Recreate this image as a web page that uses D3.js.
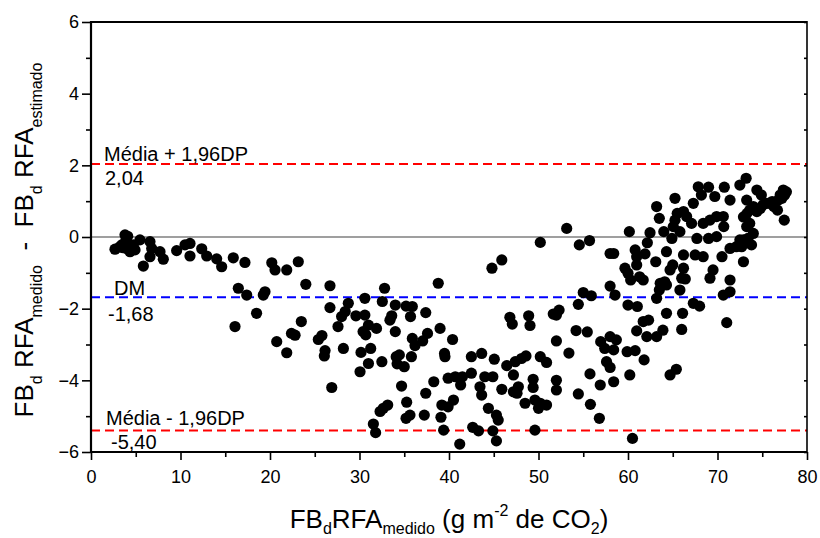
<!DOCTYPE html>
<html>
<head>
<meta charset="utf-8">
<script src="https://cdn.jsdelivr.net/npm/d3@7"></script>
<style>
  body { margin: 0; background: #fff; }
  svg text { font-family: "Liberation Sans", Arial, sans-serif; fill: #000; }
</style>
</head>
<body>
<svg id="chart" width="820" height="538"></svg>
<script>
// Bland-Altman data: [FBd RFA medido, medido - estimado]
const lowRange = [
  [2.68,-0.34],[3.2,-0.28],[3.43,-0.22],[3.6,-0.3],[3.8,0.06],[3.91,-0.08],[3.98,-0.32],[4.1,0.02],
  [4.36,-0.41],[4.5,-0.3],[4.73,-0.22],[4.92,-0.36],[5.47,-0.08],[5.85,-0.81],[6.59,-0.13],[6.59,-0.55],
  [6.78,-0.32],[7.71,-0.41],[8.08,-0.62],[9.57,-0.38],[10.5,-0.22],[11.06,-0.18],[11.06,-0.53],[12.37,-0.33],
  [12.93,-0.53],[14.04,-0.61],[14.6,-0.83],[15.9,-0.58],[16.09,-2.5],[16.46,-1.43],[17.2,-0.71],[17.4,-1.62],
  [18.5,-2.13],[19.44,-1.53],[19.25,-1.62],[20.2,-0.72],[20.56,-0.92],[20.75,-2.92],[21.87,-0.92],[21.87,-3.23],
  [22.4,-2.69],[22.8,-2.74],[23.16,-0.69],[23.5,-2.36]
];
const midRange = [
  [24.0,-1.32],[26.7,-1.36],[25.4,-2.86],[25.8,-2.75],[26.15,-3.17],[26.07,-3.32],[26.7,-1.97],[27.6,-2.5],
  [28.0,-2.22],[28.4,-2.08],[28.75,-1.85],[28.2,-3.11],[29.6,-2.2],[30.06,-3.76],[30.17,-3.22],[30.4,-2.64],
  [30.6,-2.18],[30.6,-1.71],[30.7,-2.73],[31.0,-2.46],[31.0,-3.53],[31.25,-3.11],[31.9,-2.55],[32.5,-3.48],
  [32.55,-1.8],[32.8,-1.43],[33.4,-2.32],[33.6,-2.2],[34.0,-1.9],[34.0,-2.64],[34.1,-3.34],[34.2,-3.54],
  [34.45,-3.29],[35.0,-3.62],[35.2,-1.93],[35.8,-3.34],[35.7,-2.22],[35.9,-1.94],[35.9,-2.83],[36.2,-3.03],
  [37.06,-2.9],[37.4,-2.11],[37.6,-2.69],[38.3,-4.04],[38.8,-1.29],[39.0,-2.55],[39.5,-3.25],[39.55,-3.34],
  [40.4,-2.86],[39.9,-3.94],[40.7,-3.9],[41.5,-3.9],[42.5,-3.34],[42.5,-3.8],[43.65,-3.25],[44.0,-3.9],
  [44.9,-3.9],[45.06,-3.41],[44.8,-0.87],[45.9,-0.64],[46.45,-3.59],[46.8,-2.24],[47.07,-2.43],[47.2,-3.85],
  [47.4,-3.48],[48.1,-3.39],[48.6,-3.32],[48.9,-2.2],[49.05,-2.47],[50.2,-0.15],[50.2,-3.34],[50.9,-3.5],
  [51.65,-2.15],[52.0,-2.18],[52.3,-2.04],[52.0,-2.9],[53.15,0.24],[53.4,-3.24],[54.2,-2.61],[54.45,-1.88],
  [54.56,-0.22],[49.4,-3.97],[52.0,-4.0]
];
const deepRange = [
  [26.9,-4.2],[31.55,-5.22],[31.8,-5.46],[32.3,-4.87],[32.66,-4.78],[33.15,-4.69],[34.7,-4.16],[35.27,-4.61],
  [35.2,-5.06],[35.64,-4.97],[37.24,-4.97],[37.4,-4.36],[39.2,-4.69],[39.1,-5.03],[39.4,-5.39],[39.9,-4.74],
  [40.5,-4.55],[41.2,-5.78],[41.3,-4.13],[42.65,-5.31],[43.3,-5.41],[43.46,-4.18],[43.65,-4.41],[44.4,-4.78],
  [44.9,-5.41],[45.3,-4.97],[45.5,-5.11],[45.3,-5.69],[45.9,-4.25],[47.2,-4.32],[47.75,-4.18],[47.6,-4.36],
  [48.5,-4.64],[49.4,-4.2],[49.6,-4.55],[49.6,-5.39],[50.0,-4.78],[50.2,-4.64],[50.9,-4.69],[52.0,-4.27],
  [54.45,-4.38],[55.75,-3.82],[56.9,-4.13],[57.6,-3.48],[58.0,-3.64],[58.4,-4.04],[60.2,-3.85],[61.8,-3.43],
  [64.7,-3.85],[65.4,-3.69],[55.8,-4.67],[56.8,-5.06],[60.5,-5.62]
];
const highRange = [
  [55.7,-0.1],[58.0,-0.46],[58.4,-0.46],[60.15,0.15],[63.2,0.85],[63.5,0.52],[62.46,0.12],[62.16,-0.16],
  [65.25,1.08],[65.5,0.66],[65.25,0.47],[66.2,0.71],[66.55,0.57],[64.0,0.15],[64.9,-0.04],[65.06,0.29],
  [65.8,0.15],[67.1,0.38],[67.3,0.94],[67.85,1.4],[69.0,1.39],[69.7,1.13],[70.76,1.39],[71.4,1.03],
  [72.5,1.45],[73.26,1.03],[74.4,1.31],[74.9,1.17],[75.87,0.94],[77.0,1.17],[77.7,1.26],[77.46,0.47],
  [68.2,1.17],[67.7,-0.04],[68.4,0.38],[69.16,0.47],[69.9,0.57],[70.65,0.57],[70.7,0.29],[69.0,-0.04],
  [69.9,0.01],[71.4,-0.32],[72.1,-0.27],[72.9,-0.08],[73.8,-0.22],[72.9,-0.69],[67.5,-0.5],[68.4,-0.55],
  [70.5,-0.55],[69.5,-0.92],[69.16,-1.15],[71.4,-1.2],[71.4,-1.53],[70.65,-1.62],[66.2,-0.5],[64.3,-0.41],
  [60.8,-0.36],[60.97,-0.55],[61.9,-0.47],[63.1,-0.69],[60.97,-0.78],[59.66,-0.87],[60.0,-1.01],[60.3,-1.2],
  [61.3,-1.11],[61.7,-1.2],[63.6,-1.29],[64.1,-1.25],[64.3,-1.34],[63.5,-1.48],[63.2,-1.71],[65.0,-0.78],
  [64.7,-0.92],[66.2,-0.87],[66.0,-1.15],[66.4,-1.17],[65.8,-1.48],[64.3,-2.13],[66.1,-2.13],[66.0,-2.58],
  [67.3,-1.85],[68.0,-1.93],[63.9,-2.6],[63.2,-2.78],[62.1,-2.78],[60.97,-2.62],[61.7,-2.36],[62.3,-2.32],
  [61.04,-1.94],[60.0,-1.9],[58.0,-1.37],[58.55,-1.62],[55.0,-1.55],[55.9,-1.64],[55.45,-2.65],[56.95,-2.92],
  [58.0,-2.78],[58.7,-2.87],[57.4,-3.11],[58.4,-3.15],[59.9,-3.2],[60.8,-3.17],[71.03,-2.39]
];
const topCluster = [
  [73.2,1.64],[77.35,1.31],[72.9,0.56],[73.3,0.66],[73.6,0.75],[74.0,0.85],[74.4,0.71],[74.8,0.8],
  [75.1,0.9],[75.5,0.94],[76.1,0.99],[76.3,0.85],[76.7,0.75],[76.8,1.03],[77.2,1.08],[77.5,1.17],
  [73.26,0.29],[73.6,0.38],[74.0,0.1],[73.4,-0.04],[72.5,-0.08],[72.7,-0.27]
];

const xMajorTicks = [0, 10, 20, 30, 40, 50, 60, 70, 80];
const xMinorTicks = [5, 15, 25, 35, 45, 55, 65, 75];
const yMajorTicks = [-6, -4, -2, 0, 2, 4, 6];
const yMinorTicks = [-5, -3, -1, 1, 3, 5];

// Limits of agreement and mean difference
const upperLimit = 2.04;
const meanDiff = -1.68;
const lowerLimit = -5.40;

const svg = d3.select("#chart");
const plotLeft = 91, plotRight = 807, plotTop = 22, plotBottom = 452;

const x = d3.scaleLinear().domain([0, 80]).range([plotLeft, plotRight]);
const y = d3.scaleLinear().domain([-6, 6]).range([plotBottom, plotTop]);

const fmt = d3.format("d");

// zero reference line
svg.append("line")
  .attr("x1", plotLeft).attr("x2", plotRight)
  .attr("y1", y(0)).attr("y2", y(0))
  .attr("stroke", "#7f7f7f").attr("stroke-width", 1.5);

// dashed reference lines
const refLines = [
  { v: upperLimit, color: "#ff0000" },
  { v: meanDiff, color: "#0000ff" },
  { v: lowerLimit, color: "#ff0000" }
];
svg.selectAll(".ref").data(refLines).enter().append("line")
  .attr("class", "ref")
  .attr("x1", plotLeft).attr("x2", plotRight)
  .attr("y1", d => y(d.v)).attr("y2", d => y(d.v))
  .attr("stroke", d => d.color).attr("stroke-width", 2)
  .attr("stroke-dasharray", "9,5");

// points
const allPoints = lowRange.concat(midRange, deepRange, highRange, topCluster);
svg.append("g").selectAll("circle").data(allPoints).enter().append("circle")
  .attr("cx", d => x(d[0])).attr("cy", d => y(d[1]))
  .attr("r", 5.6).attr("fill", "#000");

// axes
function styleAxis(g) {
  g.select(".domain").remove();
  g.selectAll(".tick line").attr("stroke", "#000").attr("stroke-width", 1.6);
  g.selectAll(".tick text").style("font-size", "18px").attr("fill", "#000");
}
svg.append("g").attr("transform", `translate(0,${plotBottom})`)
  .call(d3.axisBottom(x).tickValues(xMajorTicks).tickFormat(fmt).tickSize(8).tickPadding(10))
  .call(styleAxis);
svg.append("g").attr("transform", `translate(0,${plotBottom})`)
  .call(d3.axisBottom(x).tickValues(xMinorTicks).tickFormat("").tickSize(5))
  .call(styleAxis);
svg.append("g").attr("transform", `translate(${plotLeft},0)`)
  .call(d3.axisLeft(y).tickValues(yMajorTicks).tickFormat(fmt).tickSize(9).tickPadding(3))
  .call(styleAxis);
svg.append("g").attr("transform", `translate(${plotLeft},0)`)
  .call(d3.axisLeft(y).tickValues(yMinorTicks).tickFormat("").tickSize(5))
  .call(styleAxis);
svg.append("g").attr("transform", `translate(${plotRight},0)`)
  .call(d3.axisLeft(y).tickValues(d3.range(-6, 7, 1)).tickFormat("").tickSize(3))
  .call(styleAxis);

// frame
const frame = svg.append("g").attr("stroke", "#000").attr("fill", "none");
frame.append("line").attr("x1", plotLeft).attr("x2", plotRight).attr("y1", plotTop).attr("y2", plotTop).attr("stroke-width", 2.2);
frame.append("line").attr("x1", plotLeft).attr("x2", plotRight).attr("y1", plotBottom).attr("y2", plotBottom).attr("stroke-width", 2.2);
frame.append("line").attr("x1", plotLeft).attr("x2", plotLeft).attr("y1", plotTop - 1).attr("y2", plotBottom + 1).attr("stroke-width", 2.2);
frame.append("line").attr("x1", plotRight).attr("x2", plotRight).attr("y1", plotTop - 1).attr("y2", plotBottom + 1).attr("stroke-width", 1.6);

// reference line labels
const refLabels = [
  { text: "Média + 1,96DP", v: upperLimit, dx: 13, dy: -3 },
  { text: "2,04", v: upperLimit, dx: 14, dy: 21 },
  { text: "DM", v: meanDiff, dx: 23, dy: -2 },
  { text: "-1,68", v: meanDiff, dx: 17, dy: 24 },
  { text: "Média - 1,96DP", v: lowerLimit, dx: 15, dy: -6 },
  { text: "-5,40", v: lowerLimit, dx: 20, dy: 18 }
];
svg.selectAll(".reflabel").data(refLabels).enter().append("text")
  .attr("class", "reflabel")
  .attr("x", d => plotLeft + d.dx).attr("y", d => y(d.v) + d.dy)
  .style("font-size", "20px")
  .text(d => d.text);

// axis titles with sub/superscripts
function addRich(textSel, parts) {
  parts.forEach(p => {
    const t = textSel.append("tspan").text(p.t);
    if (p.size) t.style("font-size", p.size + "px");
    if (p.dy) t.attr("dy", p.dy);
  });
}
const xTitle = svg.append("text")
  .attr("x", (plotLeft + plotRight) / 2).attr("y", 528)
  .attr("text-anchor", "middle")
  .style("font-size", "26px").style("white-space", "pre");
addRich(xTitle, [
  { t: "FB" }, { t: "d", size: 16, dy: 6 }, { t: "RFA", dy: -6 },
  { t: "medido", size: 16, dy: 6 }, { t: " (g m", dy: -6 },
  { t: "-2", size: 16, dy: -12 }, { t: " de CO", dy: 12 },
  { t: "2", size: 16, dy: 6 }, { t: ")", dy: -6 }
]);

const yTitle = svg.append("text")
  .attr("transform", "translate(33,240) rotate(-90)")
  .attr("text-anchor", "middle")
  .style("font-size", "26px").style("white-space", "pre");
addRich(yTitle, [
  { t: "FB" }, { t: "d", size: 16, dy: 9 }, { t: " RFA", dy: -9 },
  { t: "medido", size: 16, dy: 9 }, { t: "  -  ", dy: -9 },
  { t: "FB" }, { t: "d", size: 16, dy: 9 }, { t: " RFA", dy: -9 },
  { t: "estimado", size: 16, dy: 9 }
]);
</script>
</body>
</html>
